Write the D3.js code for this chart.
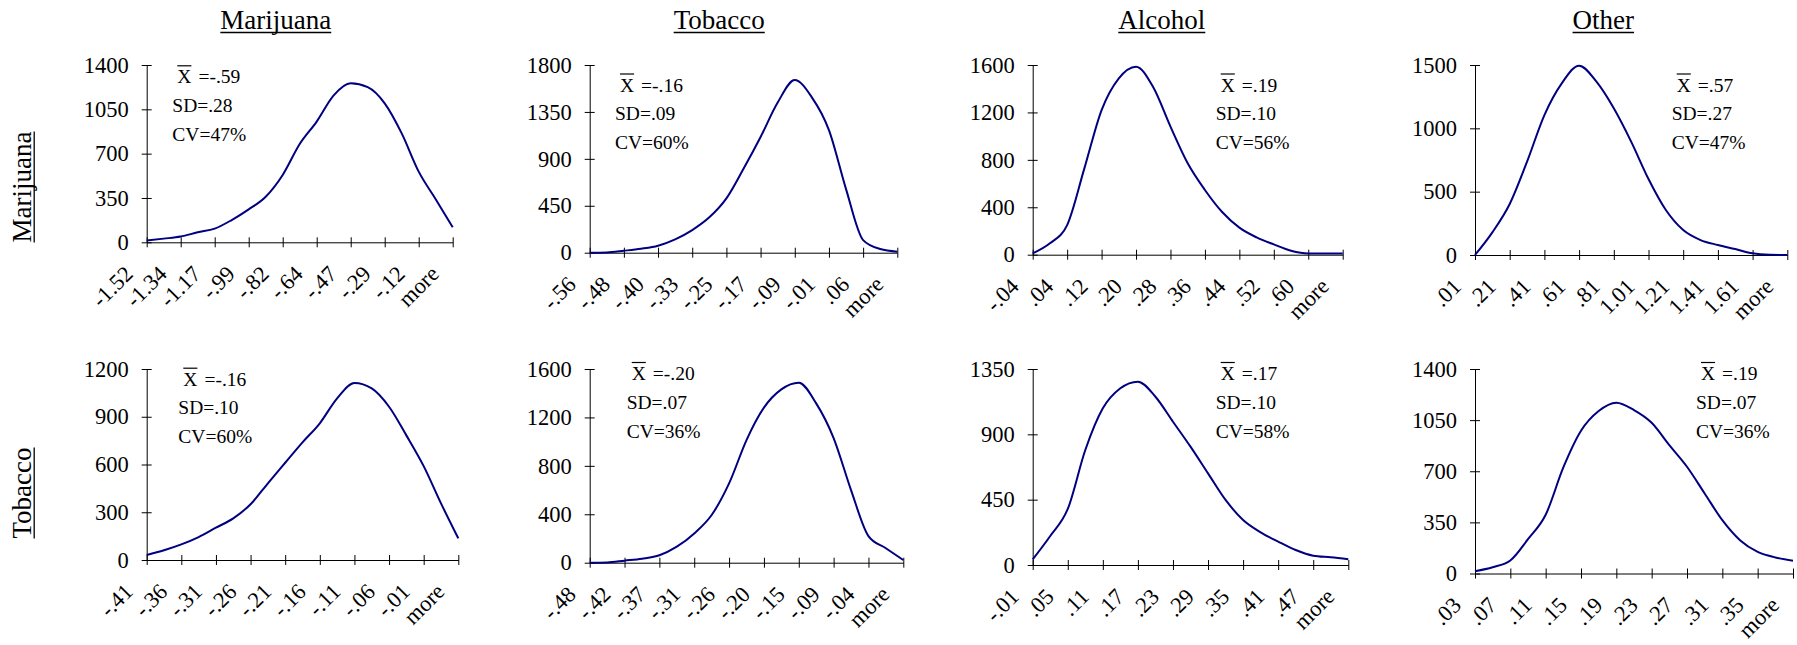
<!DOCTYPE html>
<html>
<head>
<meta charset="utf-8">
<script src="https://cdn.jsdelivr.net/npm/d3@7"></script>
<style>
  html, body { margin: 0; padding: 0; background: #fff; }
  svg { display: block; }
</style>
</head>
<body>
<svg id="chart" width="1797" height="645"></svg>
<script>
// Drug names for the columns (compared drug) and rows (reference drug)
const columnDrugs = ["Marijuana", "Tobacco", "Alcohol", "Other"];
const rowDrugs = ["Marijuana", "Tobacco"];

// Bin labels shown on the x axis (every other bin is labelled)
const binsMarMar = ["-1.52", "-1.34", "-1.17", "-.99", "-.82", "-.64", "-.47", "-.29", "-.12", "more"];
const binsMarTob = ["-.56", "-.48", "-.40", "-.33", "-.25", "-.17", "-.09", "-.01", ".06", "more"];
const binsMarAlc = ["-.04", ".04", ".12", ".20", ".28", ".36", ".44", ".52", ".60", "more"];
const binsMarOth = [".01", ".21", ".41", ".61", ".81", "1.01", "1.21", "1.41", "1.61", "more"];
const binsTobMar = ["-.41", "-.36", "-.31", "-.26", "-.21", "-.16", "-.11", "-.06", "-.01", "more"];
const binsTobTob = ["-.48", "-.42", "-.37", "-.31", "-.26", "-.20", "-.15", "-.09", "-.04", "more"];
const binsTobAlc = ["-.01", ".05", ".11", ".17", ".23", ".29", ".35", ".41", ".47", "more"];
const binsTobOth = [".03", ".07", ".11", ".15", ".19", ".23", ".27", ".31", ".35", "more"];

// Frequency axis tick values
const yTicksMarMar = [0, 350, 700, 1050, 1400];
const yTicksMarTob = [0, 450, 900, 1350, 1800];
const yTicksMarAlc = [0, 400, 800, 1200, 1600];
const yTicksMarOth = [0, 500, 1000, 1500];
const yTicksTobMar = [0, 300, 600, 900, 1200];
const yTicksTobTob = [0, 400, 800, 1200, 1600];
const yTicksTobAlc = [0, 450, 900, 1350];
const yTicksTobOth = [0, 350, 700, 1050, 1400];

// Frequencies for each of the 19 bins
const freqMarMar = [15, 29, 45, 79, 108, 176, 260, 360, 532, 776, 953, 1160, 1255, 1225, 1097, 860, 558, 340, 118];
const freqMarTob = [0, 3, 19, 38, 67, 128, 217, 339, 521, 805, 1110, 1440, 1656, 1490, 1176, 610, 121, 35, 10];
const freqMarAlc = [11, 96, 250, 728, 1220, 1488, 1586, 1412, 1080, 771, 546, 360, 228, 146, 87, 34, 11, 11, 11];
const freqMarOth = [0, 179, 403, 737, 1105, 1355, 1495, 1368, 1158, 895, 600, 355, 197, 118, 79, 47, 13, 2, 0];
const freqTobMar = [31, 61, 98, 144, 203, 262, 350, 482, 611, 739, 859, 1016, 1112, 1078, 963, 783, 590, 356, 136];
const freqTobTob = [0, 2, 17, 33, 61, 132, 242, 394, 655, 1013, 1281, 1432, 1487, 1316, 1030, 600, 220, 119, 22];
const freqTobAlc = [39, 200, 386, 792, 1079, 1217, 1263, 1159, 987, 815, 631, 448, 310, 225, 161, 103, 64, 53, 39];
const freqTobOth = [16, 43, 89, 235, 402, 726, 977, 1112, 1169, 1119, 1032, 879, 731, 548, 365, 228, 148, 110, 87];

// Summary statistics (mean, standard deviation, coefficient of variation)
const meansRowMar = ["-.59", "-.16", ".19", ".57"];
const meansRowTob = ["-.16", "-.20", ".17", ".19"];
const sdsRowMar = [".28", ".09", ".10", ".27"];
const sdsRowTob = [".10", ".07", ".10", ".07"];
const cvsRowMar = ["47%", "60%", "56%", "47%"];
const cvsRowTob = ["60%", "36%", "58%", "36%"];

// ---------------------------------------------------------------------------
const serif = "'Times New Roman', 'Liberation Serif', serif";
const lineColor = "#000080";

const panels = [
  { bins: binsMarMar, yTicks: yTicksMarMar, freq: freqMarMar, mean: meansRowMar[0], sd: sdsRowMar[0], cv: cvsRowMar[0] },
  { bins: binsMarTob, yTicks: yTicksMarTob, freq: freqMarTob, mean: meansRowMar[1], sd: sdsRowMar[1], cv: cvsRowMar[1] },
  { bins: binsMarAlc, yTicks: yTicksMarAlc, freq: freqMarAlc, mean: meansRowMar[2], sd: sdsRowMar[2], cv: cvsRowMar[2] },
  { bins: binsMarOth, yTicks: yTicksMarOth, freq: freqMarOth, mean: meansRowMar[3], sd: sdsRowMar[3], cv: cvsRowMar[3] },
  { bins: binsTobMar, yTicks: yTicksTobMar, freq: freqTobMar, mean: meansRowTob[0], sd: sdsRowTob[0], cv: cvsRowTob[0] },
  { bins: binsTobTob, yTicks: yTicksTobTob, freq: freqTobTob, mean: meansRowTob[1], sd: sdsRowTob[1], cv: cvsRowTob[1] },
  { bins: binsTobAlc, yTicks: yTicksTobAlc, freq: freqTobAlc, mean: meansRowTob[2], sd: sdsRowTob[2], cv: cvsRowTob[2] },
  { bins: binsTobOth, yTicks: yTicksTobOth, freq: freqTobOth, mean: meansRowTob[3], sd: sdsRowTob[3], cv: cvsRowTob[3] }
];

// Plot frames and statistics-box anchors for each panel
const frames = [
  { left: 146.7, right: 452.7, top: 65, bottom: 242.3, sx: 172.3, sy: 83.3 },
  { left: 589.7, right: 897.3, top: 65, bottom: 252.7, sx: 615, sy: 91.5 },
  { left: 1032.7, right: 1342.7, top: 65, bottom: 254.7, sx: 1215.7, sy: 91.5 },
  { left: 1475, right: 1787.3, top: 65, bottom: 255, sx: 1671.7, sy: 91.5 },
  { left: 146.7, right: 458.3, top: 369, bottom: 560, sx: 178.3, sy: 385.7 },
  { left: 589.7, right: 903.3, top: 369, bottom: 562.7, sx: 626.7, sy: 380 },
  { left: 1032.7, right: 1348.3, top: 369, bottom: 565, sx: 1215.7, sy: 380 },
  { left: 1475, right: 1793, top: 369, bottom: 573.5, sx: 1696, sy: 380 }
];

const svg = d3.select("#chart");

// Underlined heading helper
function underlinedText(parent, x, y, str, size, rotate) {
  const g = parent.append("g").attr("transform", `translate(${x},${y})` + (rotate ? ` rotate(${rotate})` : ""));
  const t = g.append("text")
    .attr("text-anchor", "middle")
    .attr("font-family", serif)
    .attr("font-size", size)
    .attr("fill", "#000")
    .text(str);
  const w = t.node().getComputedTextLength();
  g.append("line")
    .attr("x1", -w / 2).attr("x2", w / 2)
    .attr("y1", 3.2).attr("y2", 3.2)
    .attr("stroke", "#000").attr("stroke-width", 1.3);
}

// Column titles
const colCenters = [275.8, 719.2, 1161.8, 1603.3];
columnDrugs.forEach((name, i) => underlinedText(svg, colCenters[i], 29.3, name, 27));

// Row titles (rotated)
const rowCenters = [187, 493];
rowDrugs.forEach((name, i) => underlinedText(svg, 31, rowCenters[i], name, 27, -90));

panels.forEach((p, k) => {
  const f = frames[k];
  const g = svg.append("g");
  const n = p.freq.length;

  const x = d3.scaleLinear().domain([0, n - 1]).range([f.left, f.right]);
  const y = d3.scaleLinear().domain([0, d3.max(p.yTicks)]).range([f.bottom, f.top]);

  // Frequency axis
  const ya = g.append("g")
    .attr("transform", `translate(${f.left},0)`)
    .call(d3.axisLeft(y).tickValues(p.yTicks).tickFormat(d3.format("d"))
      .tickSize(5).tickSizeOuter(0).tickPadding(13));
  ya.attr("font-family", serif).attr("font-size", 22.5);
  ya.select(".domain").attr("stroke", "#000");
  ya.selectAll(".tick line").attr("x1", 5).attr("stroke", "#000");
  ya.selectAll(".tick text").attr("fill", "#000");

  // Bin axis: ticks every other bin, labels rotated
  const xa = g.append("g")
    .attr("transform", `translate(0,${f.bottom})`)
    .call(d3.axisBottom(x)
      .tickValues(d3.range(0, n, 2))
      .tickFormat((d, i) => p.bins[i])
      .tickSize(5).tickSizeOuter(0));
  xa.attr("font-family", serif).attr("font-size", 22.5);
  xa.select(".domain").attr("stroke", "#000");
  xa.selectAll(".tick line").attr("y1", -5).attr("stroke", "#000");
  xa.selectAll(".tick text")
    .attr("fill", "#000")
    .attr("y", 0).attr("dy", null)
    .attr("text-anchor", "end")
    .attr("transform", "translate(-13,33) rotate(-45)");

  // Frequency curve
  g.append("path")
    .datum(p.freq)
    .attr("fill", "none")
    .attr("stroke", lineColor)
    .attr("stroke-width", 2)
    .attr("stroke-linejoin", "round")
    .attr("d", d3.line().x((d, i) => x(i)).y(d => y(d)).curve(d3.curveMonotoneX));

  // Statistics block
  const st = g.append("g").attr("font-family", serif).attr("font-size", 19.5).attr("fill", "#000");
  const xm = st.append("text").attr("x", f.sx + 5).attr("y", f.sy);
  const xbar = xm.append("tspan").text("X");
  xm.append("tspan").attr("dx", 7).text("=" + p.mean);
  const xw = xbar.node().getComputedTextLength();
  st.append("line")
    .attr("x1", f.sx + 5).attr("x2", f.sx + 5 + xw)
    .attr("y1", f.sy - 17.5).attr("y2", f.sy - 17.5)
    .attr("stroke", "#000").attr("stroke-width", 1.2);
  st.append("text").attr("x", f.sx).attr("y", f.sy + 28.5).text("SD=" + p.sd);
  st.append("text").attr("x", f.sx).attr("y", f.sy + 57.5).text("CV=" + p.cv);
});
</script>
</body>
</html>
